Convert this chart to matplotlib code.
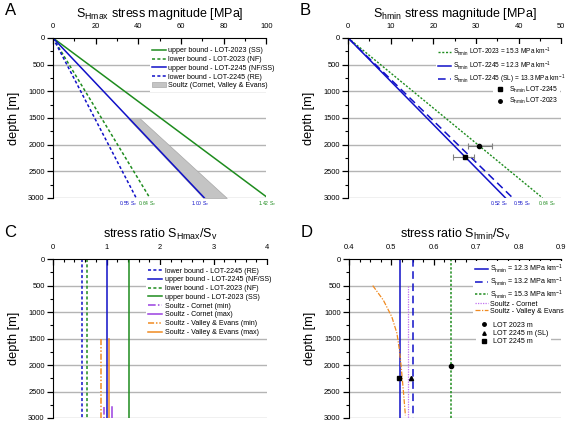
import matplotlib
matplotlib.use('Agg')
from matplotlib import pyplot as plt
from matplotlib.lines import Line2D
from matplotlib.patches import Patch

plt.rcParams['font.family'] = ['Liberation Sans', 'DejaVu Sans']
plt.rcParams['mathtext.fontset'] = 'custom'
plt.rcParams['mathtext.rm'] = 'Liberation Sans'
plt.rcParams['mathtext.default'] = 'regular'

# depth range of the gradient lines [m]
depth = [0, 3000]

# A: SHmax magnitude [MPa] at 0 and 3000 m
shmax_ub_2023 = [0, 100.8]   # 1.42 Sv
shmax_lb_2023 = [0, 45.4]    # 0.64 Sv
shmax_ub_2245 = [0, 71.0]    # 1.00 Sv
shmax_lb_2245 = [0, 39.0]    # 0.55 Sv
soultz_depth = [1500, 3000]
soultz_lo = [35.0, 70.5]
soultz_hi = [40.5, 81.5]
labels_a = ['0.55 S$_v$', '0.64 S$_v$', '1.00 S$_v$', '1.42 S$_v$']
labels_a_x = [35.3, 44.0, 69, 100.6]

# B: Shmin magnitude [MPa]
shmin_2023 = [0, 45.6]       # 15.3 MPa/km
shmin_2245 = [0, 36.9]       # 12.3 MPa/km
shmin_2245_sl = [0, 38.6]    # 13.3 MPa/km
lot2245_depth, lot2245_val, lot2245_err = 2240, 27.5, [[2.8], [2.0]]
lot2023_depth, lot2023_val, lot2023_err = 2020, 30.8, [[2.8], [2.9]]
labels_b = ['0.52 S$_v$', '0.55 S$_v$', '0.64 S$_v$']
labels_b_x = [35.5, 40.8, 46.7]

# C: SHmax / Sv ratios
ratio_lb_2245 = 0.55
ratio_ub_2245 = 1.00
ratio_lb_2023 = 0.64
ratio_ub_2023 = 1.42
cornet_min, cornet_max, cornet_depth = 0.95, 1.10, [2800, 3000]
ve_min, ve_max, ve_depth = 0.89, 1.05, [1500, 3000]

# D: Shmin / Sv ratios
ratio_123 = 0.52
ratio_132 = 0.55
ratio_153 = 0.64
cornet_d = 0.538
cornet_d_depth = [500, 3000]
ve_curve_depth = [500, 775, 1090, 1400, 1720, 2030, 2470, 2950]
ve_curve_val = [0.456, 0.481, 0.501, 0.513, 0.519, 0.523, 0.528, 0.533]
lot2023_d = (0.64, 2020)
lot2245sl_d = (0.547, 2245)
lot2245_d = (0.518, 2240)

green = '#1e8c1e'
blue = '#1010c8'
purple = '#9a40e0'
orange = '#f08a20'
grid_c = '#b4b4b4'
fs_leg = 5.1


def style(ax, xlim, xticks, minor, title, letter):
    ax.set_xlim(*xlim)
    ax.set_ylim(3000, 0)
    ax.xaxis.tick_top()
    ax.set_xticks(xticks)
    ax.set_xticks(minor, minor=True)
    ax.set_yticks(range(0, 3001, 500))
    ax.set_yticks(range(250, 3000, 500), minor=True)
    ax.spines['bottom'].set_visible(False)
    ax.spines['right'].set_visible(False)
    ax.tick_params(axis='x', which='both', direction='in', labelsize=5.4, pad=6)
    ax.tick_params(axis='x', which='major', length=4, width=0.9)
    ax.tick_params(axis='x', which='minor', length=2.5, width=0.8)
    ax.tick_params(axis='y', which='both', direction='out', labelsize=5.4, pad=2)
    ax.tick_params(axis='y', which='major', length=4, width=0.9)
    ax.tick_params(axis='y', which='minor', length=2.5, width=0.8)
    for d in range(500, 3001, 500):
        ax.axhline(d, color=grid_c, lw=1.0, zorder=0)
    ax.set_ylabel('depth [m]', fontsize=9.2, labelpad=6)
    ax.set_title(title, fontsize=9, pad=15)
    ax.text(-0.2, 1.17, letter, transform=ax.transAxes, fontsize=12,
            ha='center', va='center')


def small_legend(ax, handles, labels, anchor, hl=2.0, tp=0.3, ls=0.25,
                 fs=fs_leg):
    return ax.legend(handles, labels, loc='upper left', bbox_to_anchor=anchor,
                     fontsize=fs, frameon=True, edgecolor='none',
                     fancybox=False, framealpha=1, handlelength=hl,
                     handletextpad=tp, labelspacing=ls, borderpad=0.3,
                     borderaxespad=0)


fig = plt.figure(figsize=(5.67, 4.22), dpi=100)

# ---- A
axA = fig.add_axes([0.0935, 0.531, 0.376, 0.379])
style(axA, (0, 100), range(0, 101, 20), range(0, 101, 10),
      r'S$_{\rm Hmax}$ stress magnitude [MPa]', 'A')
axA.fill_betweenx(soultz_depth, soultz_lo, soultz_hi, color='#c4c4c4',
                  edgecolor='#a8a8a8', lw=0.5, zorder=1)
axA.plot(shmax_ub_2023, depth, color=green, lw=1.1)
axA.plot(shmax_lb_2023, depth, color=green, lw=1.1, ls=(0, (2, 1.5)))
axA.plot(shmax_ub_2245, depth, color=blue, lw=1.1)
axA.plot(shmax_lb_2245, depth, color=blue, lw=1.1, ls=(0, (2, 1.5)))
cols_a = [blue, green, blue, green]
for x, t, c in zip(labels_a_x, labels_a, cols_a):
    axA.text(x, 3030, t, color=c, fontsize=3.6, ha='center', va='top')
hA = [Line2D([], [], color=green, lw=1.1),
      Line2D([], [], color=green, lw=1.1, ls=(0, (2, 1.5))),
      Line2D([], [], color=blue, lw=1.1),
      Line2D([], [], color=blue, lw=1.1, ls=(0, (2, 1.5))),
      Patch(facecolor='#c4c4c4', edgecolor='#a8a8a8', lw=0.5)]
lA = ['upper bound - LOT-2023 (SS)', 'lower bound - LOT-2023 (NF)',
      'upper bound - LOT-2245 (NF/SS)', 'lower bound - LOT-2245 (RE)',
      'Soultz (Cornet, Valley & Evans)']
small_legend(axA, hA, lA, (0.455, 0.955))

# ---- B
axB = fig.add_axes([0.614, 0.531, 0.376, 0.379])
style(axB, (0, 50), range(0, 51, 10), range(0, 51, 5),
      r'S$_{\rm hmin}$ stress magnitude [MPa]', 'B')
lB1 = axB.plot(shmin_2023, depth, color=green, lw=1.0, ls=(0, (1.5, 1.2)))[0]
lB2 = axB.plot(shmin_2245, depth, color=blue, lw=1.1)[0]
lB3 = axB.plot(shmin_2245_sl, depth, color=blue, lw=1.1, ls=(0, (5, 3)))[0]
axB.errorbar(lot2245_val, lot2245_depth, xerr=lot2245_err, fmt='s', ms=3,
             color='black', ecolor='#808080', elinewidth=0.8, capsize=2.5,
             capthick=0.8, zorder=5)
axB.errorbar(lot2023_val, lot2023_depth, xerr=lot2023_err, fmt='o', ms=3,
             color='black', ecolor='#808080', elinewidth=0.8, capsize=2.5,
             capthick=0.8, zorder=5)
cols_b = [blue, blue, green]
for x, t, c in zip(labels_b_x, labels_b, cols_b):
    axB.text(x, 3030, t, color=c, fontsize=3.6, ha='center', va='top')
legB = small_legend(axB, [lB1, lB2, lB3],
                    [r'S$_{\rm hmin}$ LOT-2023 = 15.3 MPa km$^{-1}$',
                     r'S$_{\rm hmin}$ LOT-2245 = 12.3 MPa km$^{-1}$',
                     r'S$_{\rm hmin}$ LOT-2245 (SL) = 13.3 MPa km$^{-1}$'],
                    (0.41, 0.965), ls=0.15, fs=4.7)
axB.add_artist(legB)
mB = [Line2D([], [], color='black', marker='s', ms=2.5, ls='none'),
      Line2D([], [], color='black', marker='o', ms=2.5, ls='none')]
small_legend(axB, mB, [r'S$_{\rm hmin}$ LOT-2245', r'S$_{\rm hmin}$ LOT-2023'],
             (0.68, 0.72), hl=1.5, tp=0.5, ls=0.15, fs=4.9)

# ---- C
axC = fig.add_axes([0.0935, 0.0095, 0.3775, 0.3765])
style(axC, (0, 4), range(0, 5), [i * 0.2 for i in range(21)],
      r'stress ratio S$_{\rm Hmax}$/S$_{\rm v}$', 'C')
cC = []
cC.append(axC.plot([ratio_lb_2245] * 2, depth, color=blue, lw=1.1,
                   ls=(0, (2, 1.5)))[0])
cC.append(axC.plot([ratio_ub_2245] * 2, depth, color=blue, lw=1.1)[0])
cC.append(axC.plot([ratio_lb_2023] * 2, depth, color=green, lw=1.1,
                   ls=(0, (2, 1.5)))[0])
cC.append(axC.plot([ratio_ub_2023] * 2, depth, color=green, lw=1.1)[0])
cC.append(axC.plot([cornet_min] * 2, cornet_depth, color=purple, lw=1.1,
                   ls=(0, (5, 1.5, 1, 1.5)))[0])
cC.append(axC.plot([cornet_max] * 2, cornet_depth, color=purple, lw=1.1)[0])
cC.append(axC.plot([ve_min] * 2, ve_depth, color=orange, lw=1.1,
                   ls=(0, (4, 1.2, 1, 1.2, 1, 1.2)))[0])
cC.append(axC.plot([ve_max] * 2, ve_depth, color=orange, lw=1.1)[0])
lC = ['lower bound - LOT-2245 (RE)', 'upper bound - LOT-2245 (NF/SS)',
      'lower bound - LOT-2023 (NF)', 'upper bound - LOT-2023 (SS)',
      'Soultz - Cornet (min)', 'Soultz - Cornet (max)',
      'Soultz - Valley & Evans (min)', 'Soultz - Valley & Evans (max)']
small_legend(axC, cC, lC, (0.435, 0.96))

# ---- D
axD = fig.add_axes([0.6155, 0.0095, 0.374, 0.3765])
style(axD, (0.4, 0.9), [0.4, 0.5, 0.6, 0.7, 0.8, 0.9],
      [0.4 + i * 0.025 for i in range(21)],
      r'stress ratio S$_{\rm hmin}$/S$_{\rm v}$', 'D')
axD.set_xticklabels(['0.4', '0.5', '0.6', '0.7', '0.8', '0.9'])
hD = []
hD.append(axD.plot([ratio_123] * 2, depth, color=blue, lw=1.1)[0])
hD.append(axD.plot([ratio_132] * 2, depth, color=blue, lw=1.1,
                   ls=(0, (5, 3)))[0])
hD.append(axD.plot([ratio_153] * 2, depth, color=green, lw=1.1,
                   ls=(0, (1.5, 1.2)))[0])
hD.append(axD.plot([cornet_d] * 2, cornet_d_depth, color='#c070f0', lw=0.9,
                   ls=(0, (1, 1)))[0])
hD.append(axD.plot(ve_curve_val, ve_curve_depth, color=orange, lw=0.9,
                   ls=(0, (4, 1.2, 1, 1.2)))[0])
axD.plot(*lot2023_d, 'o', color='black', ms=3, zorder=5)
axD.plot(*lot2245sl_d, '^', color='black', ms=3, zorder=5)
axD.plot(*lot2245_d, 's', color='black', ms=3, zorder=5)
legD = small_legend(axD, hD, [r'S$_{\rm hmin}$ = 12.3 MPa km$^{-1}$',
                              r'S$_{\rm hmin}$ = 13.2 MPa km$^{-1}$',
                              r'S$_{\rm hmin}$ = 15.3 MPa km$^{-1}$',
                              'Soultz - Cornet', 'Soultz - Valley & Evans'],
                    (0.585, 0.99), hl=1.8, ls=0.02)
axD.add_artist(legD)
mD = [Line2D([], [], color='black', marker='o', ms=2.5, ls='none'),
      Line2D([], [], color='black', marker='^', ms=2.5, ls='none'),
      Line2D([], [], color='black', marker='s', ms=2.5, ls='none')]
small_legend(axD, mD, ['LOT 2023 m', 'LOT 2245 m (SL)', 'LOT 2245 m'],
             (0.6, 0.62), hl=1.5, tp=0.6, ls=0.2)

plt.savefig('out.png', dpi=100)
